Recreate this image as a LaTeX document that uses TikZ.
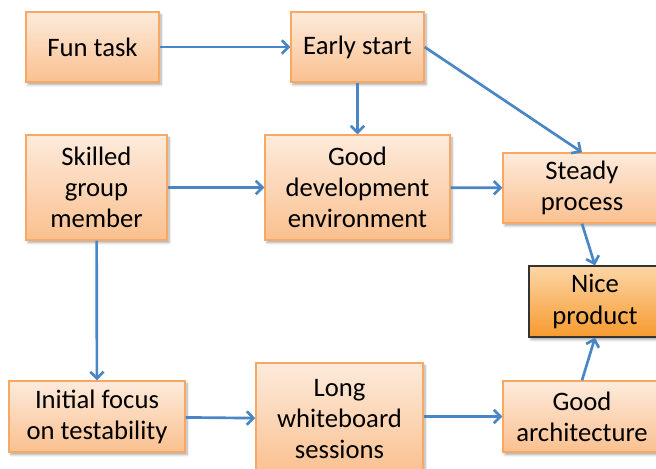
\documentclass[tikz,border=0pt]{standalone}
\usepackage{fontspec}
\setmainfont{Carlito}
\usetikzlibrary{arrows.meta,shadows.blur}

\definecolor{boxtop}{HTML}{FDEBDC}
\definecolor{boxbottom}{HTML}{FAC08F}
\definecolor{boxline}{HTML}{F8A863}
\definecolor{goaltop}{HTML}{FCD6A6}
\definecolor{goalbottom}{HTML}{F79A2E}
\definecolor{linkblue}{HTML}{4A86C5}

\tikzset{
  cause/.style={draw=boxline, line width=1pt, top color=boxtop, bottom color=boxbottom,
    align=center, inner sep=0pt, font=\fontsize{20}{23.3}\selectfont,
    blur shadow={shadow blur steps=5, shadow xshift=1.5pt, shadow yshift=-2pt, shadow opacity=35}},
  goal/.style={cause, draw=black!80, top color=goaltop, bottom color=goalbottom},
  link/.style={draw=linkblue, line width=2pt, -{Straight Barb[length=5pt,width=10pt]}}
}

\begin{document}
\begin{tikzpicture}[x=0.75pt, y=-0.75pt]
    \useasboundingbox (0,0) rectangle (656,468);
    % top row
    \node[cause, minimum width=99.75pt, minimum height=52.5pt] (fun) at (92.5,47) {Fun task};
    \node[cause, minimum width=99.75pt, minimum height=52.5pt] (early) at (357.5,47) {Early start};
    % middle row
    \node[cause, minimum width=105.75pt, minimum height=78.75pt] (skilled) at (96.5,187.5) {Skilled\\group\\member};
    \node[cause, minimum width=138.75pt, minimum height=78.75pt] (devenv) at (357.5,187.5) {Good\\development\\environment};
    \node[cause, minimum width=118.5pt, minimum height=52.5pt] (steady) at (582,188) {Steady\\process};
    \node[goal, minimum width=99pt, minimum height=53.25pt] (nice) at (595,301.5) {Nice\\product};
    % bottom row
    \node[cause, minimum width=132pt, minimum height=53.25pt] (focus) at (97,416.5) {Initial focus\\on testability};
    \node[cause, minimum width=125.25pt, minimum height=84pt] (board) at (339.5,419) {Long\\whiteboard\\sessions};
    \node[cause, minimum width=118.5pt, minimum height=53.25pt] (arch) at (582,416.5) {Good\\architecture};

    \draw[link] (fun) -- (early);
    \draw[link] (early) -- (devenv);
    \draw[link] (early.east) -- (steady.north);
    \draw[link] (skilled) -- (devenv);
    \draw[link] (devenv) -- (steady);
    \draw[link] (steady.south) -- (nice.north);
    \draw[link] (skilled) -- (focus);
    \draw[link] (focus) -- (board);
    \draw[link] (board.east |- arch) -- (arch);
    \draw[link] (arch.north) -- (nice.south);
\end{tikzpicture}
\end{document}
